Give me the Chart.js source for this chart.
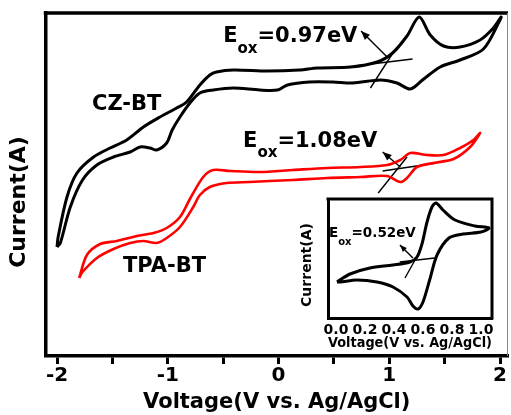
<!DOCTYPE html>
<html>
<head>
<meta charset="utf-8">
<script src="https://cdn.jsdelivr.net/npm/chart.js@4.4.1/dist/chart.umd.min.js"></script>
<style>
  html, body { margin: 0; padding: 0; background: #fff; }
  #wrap { position: relative; width: 511px; height: 415px; }
  #main { position: absolute; left: 0; top: 0; }
  #inset { position: absolute; left: 290px; top: 190px; }
</style>
</head>
<body>
<div id="wrap">
  <canvas id="main" width="511" height="415"></canvas>
  <canvas id="inset" width="215" height="165"></canvas>
</div>
<script>
const FONT = "'DejaVu Sans', sans-serif";

// main panel, voltage in V, current in arbitrary units (no scale shown)
// each loop: left tip -> lower branch -> right tip -> upper branch -> left tip
const czVoltage = [-2.00,-1.97,-1.88,-1.77,-1.64,-1.49,-1.34,-1.25,-1.16,-1.10,-1.01,-0.96,-0.89,-0.80,-0.71,-0.59,-0.41,-0.17,-0.01,0.08,0.28,0.49,0.67,0.92,1.07,1.19,1.30,1.46,1.64,1.85,2.00,
  2.01,1.94,1.82,1.64,1.49,1.37,1.27,1.16,1.03,0.89,0.65,0.35,0.19,-0.10,-0.41,-0.56,-0.62,-0.71,-0.83,-0.92,-1.07,-1.22,-1.37,-1.52,-1.67,-1.82,-1.91,-1.99,-2.00];
const czCurrent = [110,114,150,177,192,200,205,210,209,207,214,227,240,254,264,267,269,267,267,272,275,275,274,277,274,268,277,290,297,308,337,
  340,329,317,310,311,322,340,321,304,295,290,289,287,286,287,285,282,272,255,249,240,230,217,209,200,184,160,120,110];

const tpaVoltage = [-1.80,-1.77,-1.64,-1.49,-1.34,-1.22,-1.10,-1.01,-0.89,-0.77,-0.71,-0.62,-0.47,-0.26,-0.08,0.13,0.44,0.74,0.98,1.10,1.16,1.25,1.40,1.58,1.73,1.82,
  1.76,1.64,1.49,1.34,1.19,1.10,0.98,0.74,0.44,0.13,-0.17,-0.44,-0.59,-0.68,-0.80,-0.89,-1.01,-1.13,-1.28,-1.46,-1.61,-1.73,-1.80];
const tpaCurrent = [79,85,99,108,114,116,114,119,130,150,162,170,174,175,176,177,179,180,181,175,179,190,194,198,210,224,
  217,209,202,202,204,197,192,190,189,187,185,186,187,180,158,140,129,124,121,116,113,102,79];

// onset construction lines (start, end)
const czBaseV = [0.69, 1.21],   czBaseI = [291, 298];
const czSlopeV = [0.83, 1.05],  czSlopeI = [269, 307];
const czArrowV = [0.99, 0.745], czArrowI = [299, 326];
const tpaBaseV = [0.94, 1.43],  tpaBaseI = [186, 194];
const tpaSlopeV = [0.90, 1.16], tpaSlopeI = [164, 200];
const tpaArrowV = [1.10, 0.94], tpaArrowI = [190, 205];

// inset (ferrocene reference)
const insetVoltage = [0.007,0.097,0.234,0.393,0.51,0.559,0.593,0.628,0.662,0.69,0.738,0.821,0.959,1.055,
  1.0,0.876,0.779,0.697,0.648,0.6,0.566,0.531,0.49,0.393,0.283,0.145,0.028,0.007];
const insetCurrent = [36,44,50,53,56,61,74,96,111,115,108,98,92,90,
  86,84,80,63,39,16,9,12,21,31,36,38,36,36];
const insetBaseV = [0.44, 0.68],    insetBaseI = [56, 60];
const insetSlopeV = [0.476, 0.572], insetSlopeI = [40, 65];
const insetArrowV = [0.531, 0.441], insetArrowI = [60, 73];

const xMajorTicks = [-2, -1, 0, 1, 2];
const xMinorTicks = [-1.5, -0.5, 0.5, 1.5];
const insetTicks = [0, 0.2, 0.4, 0.6, 0.8, 1.0];

const seriesNames = ['CZ-BT', 'TPA-BT'];
const onsetValues = ['0.97', '1.08'];
const insetOnset = '0.52';
const xTitle = 'Voltage(V vs. Ag/AgCl)';
const yTitle = 'Current(A)';

const pts = (xs, ys) => xs.map((x, i) => ({ x, y: ys[i] }));

Chart.defaults.font.family = FONT;
Chart.defaults.font.weight = 'bold';
Chart.defaults.color = '#000';

function curve(xs, ys, color, width) {
  return { data: pts(xs, ys), showLine: true, borderColor: color, borderWidth: width,
           pointRadius: 0, tension: 0.3, fill: false };
}
function thin(xs, ys, arrow) {
  return { data: pts(xs, ys), showLine: true, borderColor: '#000', borderWidth: 1.4,
           pointRadius: 0, tension: 0, fill: false, arrow: arrow || 0 };
}

function drawEox(ctx, x, y, val, big, small, drop) {
  ctx.textAlign = 'left';
  ctx.textBaseline = 'alphabetic';
  ctx.font = `bold ${big}px ${FONT}`;
  ctx.fillText('E', x, y);
  let w = ctx.measureText('E').width;
  ctx.font = `bold ${small}px ${FONT}`;
  ctx.fillText('ox', x + w, y + drop);
  w += ctx.measureText('ox').width;
  ctx.font = `bold ${big}px ${FONT}`;
  ctx.fillText('=' + val + 'eV', x + w, y);
}

// rotated y title, placed by hand since it sits below the axis centre
function drawYTitle(ctx, cx, cy, size) {
  ctx.save();
  ctx.translate(cx, cy);
  ctx.rotate(-Math.PI / 2);
  ctx.font = `bold ${size}px ${FONT}`;
  ctx.textAlign = 'center';
  ctx.textBaseline = 'middle';
  ctx.fillStyle = '#000';
  ctx.fillText(yTitle, 0, 0);
  ctx.restore();
}

const arrowPlugin = {
  id: 'arrowHeads',
  afterDatasetsDraw(chart) {
    const ctx = chart.ctx;
    chart.data.datasets.forEach((ds, i) => {
      if (!ds.arrow) return;
      const p = chart.getDatasetMeta(i).data;
      const a = p[p.length - 2], b = p[p.length - 1];
      const ang = Math.atan2(b.y - a.y, b.x - a.x);
      const len = ds.arrow, half = len * 0.4;
      const bx = b.x - len * Math.cos(ang), by = b.y - len * Math.sin(ang);
      ctx.save();
      ctx.fillStyle = '#000';
      ctx.beginPath();
      ctx.moveTo(b.x, b.y);
      ctx.lineTo(bx + half * Math.sin(ang), by - half * Math.cos(ang));
      ctx.lineTo(bx - half * Math.sin(ang), by + half * Math.cos(ang));
      ctx.closePath();
      ctx.fill();
      ctx.restore();
    });
  }
};

const mainDecor = {
  id: 'mainDecor',
  afterDraw(chart) {
    const { ctx, chartArea: a, scales: { x, y } } = chart;
    ctx.save();
    ctx.strokeStyle = '#000';
    ctx.lineWidth = 3.5;
    ctx.beginPath();
    ctx.moveTo(a.left - 1.75, a.top);
    ctx.lineTo(a.right, a.top);
    ctx.stroke();
    ctx.strokeStyle = '#888';
    ctx.lineWidth = 1;
    ctx.beginPath();
    ctx.moveTo(a.right - 0.5, a.top);
    ctx.lineTo(a.right - 0.5, a.bottom);
    ctx.stroke();

    ctx.fillStyle = '#000';
    ctx.font = `bold 21px ${FONT}`;
    ctx.textBaseline = 'alphabetic';
    ctx.textAlign = 'left';
    ctx.fillText(seriesNames[0], x.getPixelForValue(-1.684), y.getPixelForValue(247));
    ctx.fillText(seriesNames[1], x.getPixelForValue(-1.404), y.getPixelForValue(85));
    drawEox(ctx, x.getPixelForValue(-0.50), y.getPixelForValue(315), onsetValues[0], 21, 15, 11);
    drawEox(ctx, x.getPixelForValue(-0.32), y.getPixelForValue(210), onsetValues[1], 21, 15, 10);
    ctx.restore();
    drawYTitle(ctx, 19, 202, 22);
  }
};

new Chart(document.getElementById('main'), {
  type: 'scatter',
  data: {
    datasets: [
      curve(czVoltage, czCurrent, '#000', 3),
      curve(tpaVoltage, tpaCurrent, '#ff0000', 2.6),
      thin(czBaseV, czBaseI), thin(czSlopeV, czSlopeI), thin(czArrowV, czArrowI, 9),
      thin(tpaBaseV, tpaBaseI), thin(tpaSlopeV, tpaSlopeI), thin(tpaArrowV, tpaArrowI, 9)
    ]
  },
  options: {
    responsive: false,
    animation: false,
    layout: { padding: { left: 45.5, right: 3, top: 13, bottom: 1 } },
    plugins: { legend: { display: false }, tooltip: { enabled: false } },
    scales: {
      x: {
        type: 'linear', min: -2.104, max: 2.072,
        afterBuildTicks: axis => {
          axis.ticks = xMajorTicks.concat(xMinorTicks).sort((p, q) => p - q).map(v => ({ value: v }));
        },
        ticks: {
          autoSkip: false, maxRotation: 0, padding: 1.5,
          font: { size: 20, lineHeight: 1 },
          callback: v => xMajorTicks.includes(v) ? String(v) : ''
        },
        grid: { drawOnChartArea: false, tickLength: 8, tickWidth: 3, tickColor: '#000' },
        border: { color: '#000', width: 3.5 },
        title: { display: true, text: xTitle, font: { size: 21, lineHeight: 1 },
                 padding: { top: 5, bottom: 1 } }
      },
      y: {
        type: 'linear', min: 1, max: 344,
        ticks: { display: false },
        grid: { display: false, drawTicks: false },
        border: { color: '#000', width: 3.5 }
      }
    }
  },
  plugins: [arrowPlugin, mainDecor]
});

const insetDecor = {
  id: 'insetDecor',
  beforeDraw(chart) {
    const { ctx, chartArea: a } = chart;
    ctx.save();
    ctx.fillStyle = '#fff';
    ctx.fillRect(a.left, a.top, a.right - a.left, a.bottom - a.top);
    ctx.restore();
  },
  afterDraw(chart) {
    const { ctx, chartArea: a, scales: { x, y } } = chart;
    ctx.save();
    ctx.strokeStyle = '#000';
    ctx.lineWidth = 3;
    ctx.beginPath();
    ctx.moveTo(a.left - 1.5, a.top);
    ctx.lineTo(a.right, a.top);
    ctx.lineTo(a.right, a.bottom + 1.5);
    ctx.stroke();
    ctx.fillStyle = '#000';
    drawEox(ctx, x.getPixelForValue(-0.048), y.getPixelForValue(81), insetOnset, 13.5, 10, 8);
    ctx.restore();
    drawYTitle(ctx, 17, 75, 14);
  }
};

new Chart(document.getElementById('inset'), {
  type: 'scatter',
  data: {
    datasets: [
      curve(insetVoltage, insetCurrent, '#000', 3),
      thin(insetBaseV, insetBaseI), thin(insetSlopeV, insetSlopeI), thin(insetArrowV, insetArrowI, 7)
    ]
  },
  options: {
    responsive: false,
    animation: false,
    layout: { padding: { left: 38, right: 13, top: 9, bottom: 5 } },
    plugins: { legend: { display: false }, tooltip: { enabled: false } },
    scales: {
      x: {
        type: 'linear', min: -0.055, max: 1.076,
        afterBuildTicks: axis => { axis.ticks = insetTicks.map(v => ({ value: v })); },
        ticks: { autoSkip: false, maxRotation: 0, padding: 5, font: { size: 14, lineHeight: 1 },
                 callback: v => v.toFixed(1) },
        grid: { display: true, drawOnChartArea: false, drawTicks: false },
        border: { color: '#000', width: 3 },
        title: { display: true, text: xTitle, font: { size: 14, lineHeight: 1 },
                 padding: { top: -6, bottom: 0 } }
      },
      y: {
        type: 'linear', min: 0, max: 119,
        ticks: { display: false },
        grid: { display: false, drawTicks: false },
        border: { color: '#000', width: 3 }
      }
    }
  },
  plugins: [arrowPlugin, insetDecor]
});
</script>
</body>
</html>
